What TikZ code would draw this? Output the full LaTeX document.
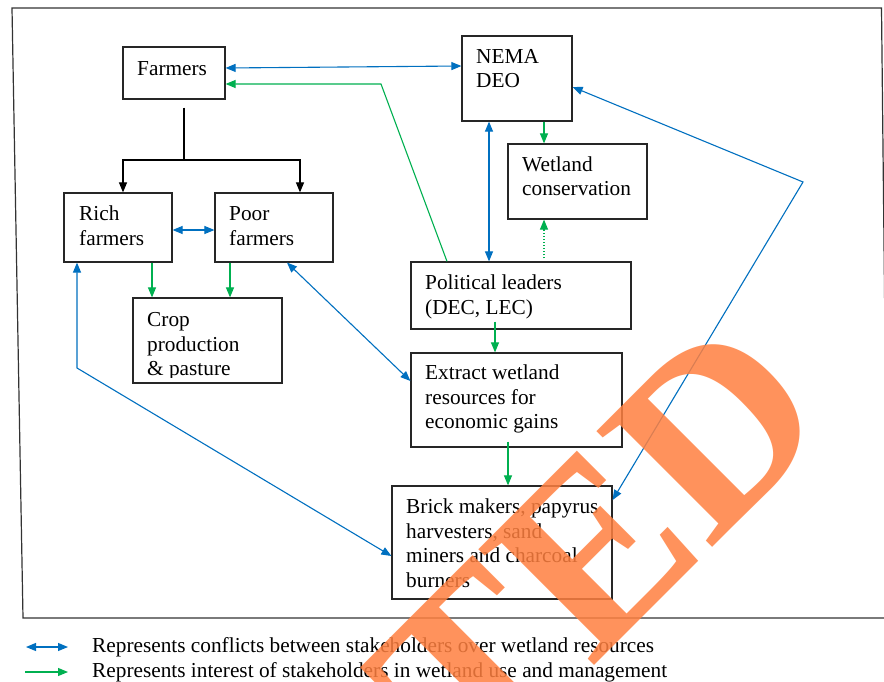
\documentclass[tikz,border=0pt]{standalone}
\usepackage{fontspec}
\setmainfont{Liberation Serif}
\usetikzlibrary{arrows.meta}
\definecolor{cblue}{RGB}{0,112,192}
\definecolor{cgreen}{RGB}{0,176,80}
\definecolor{wmcol}{RGB}{255,128,64}
\newcommand\tstrut{\rule{0pt}{20pt}}
\begin{document}
\begin{tikzpicture}[x=1pt,y=-1pt,
  box/.style={draw=black!85, line width=1.2pt, rectangle, inner sep=0pt},
  txt/.style={anchor=north west, align=left, inner sep=0pt, font=\fontsize{21.3}{24.8}\selectfont},
  conf/.style={draw=cblue, line width=1.1pt, {Triangle[length=10pt,width=8pt]}-{Triangle[length=10pt,width=8pt]}},
  intr/.style={draw=cgreen, line width=1.1pt, -{Triangle[length=10pt,width=8pt]}},
  treeline/.style={draw=black, line width=1.2pt},
  treearrow/.style={draw=black, line width=1.2pt, -{Triangle[length=10pt,width=8pt]}},
  frame/.style={draw=black!80, line width=1.2pt},
  wm/.style={anchor=base east, rotate=45, inner sep=0pt, text=wmcol, text opacity=0.85, font=\fontsize{250}{250}\selectfont\bfseries}]
\fill[white] (0,0) rectangle (884,682);
\useasboundingbox (0,0) rectangle (884,682);

% outer frame
\draw[frame] (12,8) -- (881.5,8) -- (888,618) -- (23,618) -- cycle;

% boxes
\node[box, minimum width=102pt, minimum height=52pt] (farmers) at (174,73) {};
\node[box, minimum width=110pt, minimum height=85pt] (nema) at (517,78.5) {};
\node[box, minimum width=139pt, minimum height=75pt] (wetcons) at (577.5,181.5) {};
\node[box, minimum width=108pt, minimum height=69pt] (rich) at (118,227.5) {};
\node[box, minimum width=118pt, minimum height=69pt] (poor) at (274,227.5) {};
\node[box, minimum width=149pt, minimum height=85pt] (crop) at (207.5,340.5) {};
\node[box, minimum width=220pt, minimum height=67pt] (pol) at (521,295.5) {};
\node[box, minimum width=211pt, minimum height=94pt] (extract) at (516.5,400) {};
\node[box, minimum width=220pt, minimum height=113pt] (brick) at (502,542.5) {};

% texts
\node[txt] (farmerst) at (137,55) {\tstrut Farmers};
\node[txt] (nemat) at (476,43) {\tstrut NEMA\\DEO};
\node[txt] (wetconst) at (522,151) {\tstrut Wetland\\conservation};
\node[txt] (richt) at (79,200) {\tstrut Rich\\farmers};
\node[txt] (poort) at (229,200) {\tstrut Poor\\farmers};
\begin{scope}
  \clip (133,298) rectangle (282,377);
  \node[txt] (cropt) at (147,306) {\tstrut Crop\\production\\\& pasture};
\end{scope}
\node[txt] (polt) at (425,269) {\tstrut Political leaders\\(DEC, LEC)};
\node[txt] (extractt) at (425,359) {\tstrut Extract wetland\\resources for\\economic gains};
\node[txt] (brickt) at (406,493) {\tstrut Brick makers, papyrus\\harvesters, sand\\miners and charcoal\\burners};

% tree connectors
\coordinate (treetop) at ([shift={(10pt,-8pt)}]farmers.south);
\coordinate (split) at (184,160);
\draw[treeline] (treetop) -- (split);
\draw[treearrow] (split) -| ([xshift=5pt]rich.north);
\draw[treearrow] (split) -| ([xshift=26pt]poor.north);

% conflicts (blue)
\draw[conf] ([yshift=5pt]farmers.east) -- ([yshift=12.5pt]nema.west);
\draw[conf] ([yshift=-2.5pt]rich.east) -- ([yshift=-2.5pt]poor.west);
\coordinate (bend1) at (77,368);
\draw[conf] ([xshift=-41pt]rich.south) -- (bend1) -- ([yshift=-13.5pt]brick.west);
\draw[conf] ([xshift=13pt]poor.south) -- ([yshift=19pt]extract.west);
\draw[conf] ([xshift=-28pt]nema.south) -- ([xshift=-32pt]pol.north);
\coordinate (bend2) at (803,182);
\draw[conf] ([yshift=-8.5pt]nema.east) -- (bend2) -- ([yshift=42.5pt]brick.east);

% interests (green)
\coordinate (bend3) at (381,84);
\draw[intr] ([xshift=-74pt]pol.north) -- (bend3) -- ([yshift=-11pt]farmers.east);
\draw[intr] ([xshift=34pt]rich.south) -- ([xshift=-55.5pt]crop.north);
\draw[intr] ([xshift=-44pt]poor.south) -- ([xshift=22.5pt]crop.north);
\draw[intr] ([xshift=27pt]nema.south) -- ([xshift=-33.5pt]wetcons.north);
\draw[intr, dotted] ([shift={(23pt,3pt)}]pol.north) -- ([xshift=-33.5pt]wetcons.south);
\draw[intr] ([shift={(-26pt,8pt)}]pol.south) -- ([xshift=-21.5pt]extract.north);
\draw[intr] ([shift={(-8.5pt,6pt)}]extract.south) -- ([xshift=6pt]brick.north);

% legend
\coordinate (lga) at (26,647);
\coordinate (lgb) at (68,647);
\coordinate (lgc) at (25,672);
\coordinate (lgd) at (68,672);
\draw[conf] (lga) -- (lgb);
\draw[intr] (lgc) -- (lgd);
\node[txt] (leg1) at (92,632) {\tstrut Represents conflicts between stakeholders over wetland resources};
\node[txt] (leg2) at (92,657) {\tstrut Represents interest of stakeholders in wetland use and management};

% watermark
\begin{scope}
  \clip (0,0) rectangle (884,682);
  \node[wm] (wmark) at (837,423) {ACCEPTED};
\end{scope}
\end{tikzpicture}
\end{document}
